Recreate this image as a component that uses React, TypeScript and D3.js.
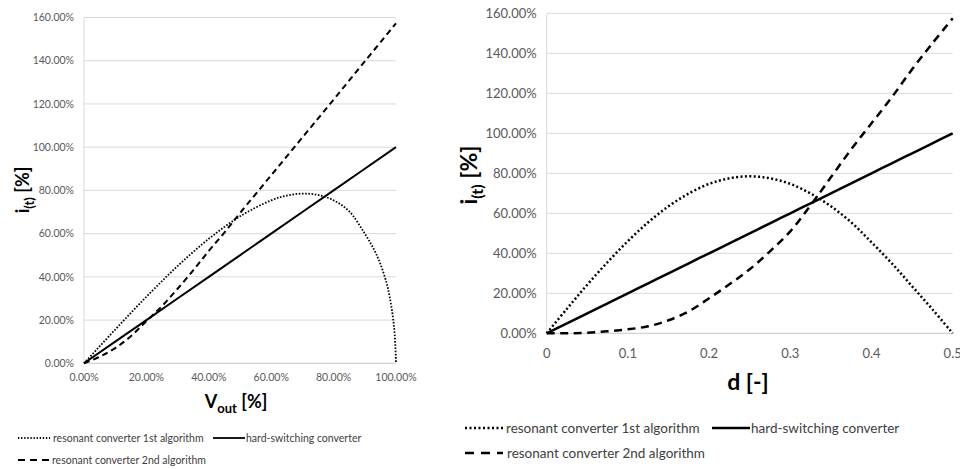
import * as d3 from 'd3'

// left panel: i(t) vs Vout (both in %)
const vOutHard = [0, 20, 40, 60, 80, 100]
const iHard = [0, 20, 40, 60, 80, 100]
const vOutRes1 = [0, 10, 20, 30, 40, 50, 60, 65, 70, 75, 80, 85, 90, 93, 95, 97, 98, 99, 99.6, 100]
const iRes1 = [0, 15.6, 30.8, 45, 57.6, 68, 75.4, 77.6, 78.5, 77.9, 75.4, 70.3, 60, 52.5, 46, 37, 30.5, 21.5, 13, 0]
const vOutRes2 = [0, 5, 10, 15, 20, 25, 30, 35, 40, 45, 50, 60, 70, 80, 90, 100]
const iRes2 = [0, 3, 7, 12.5, 19.5, 26.5, 34.5, 43, 52, 60.5, 69.5, 87, 104.5, 122, 139.7, 157.3]

// right panel: i(t) vs duty d
const dValues = [0, 0.025, 0.05, 0.075, 0.1, 0.125, 0.15, 0.175, 0.2, 0.225, 0.25, 0.275, 0.3, 0.325, 0.35, 0.375, 0.4, 0.425, 0.45, 0.475, 0.5]
const dHard = [0, 5, 10, 15, 20, 25, 30, 35, 40, 45, 50, 55, 60, 65, 70, 75, 80, 85, 90, 95, 100]
const dRes1 = [0, 12.3, 24.3, 35.6, 46.1, 55.5, 63.5, 69.9, 74.7, 77.5, 78.5, 77.5, 74.7, 69.9, 63.5, 55.5, 45.5, 35, 23.5, 12, 0]
const dRes2 = [0, 0, 0.3, 1, 2, 3.5, 6.5, 11, 17.5, 24.5, 32, 41, 51, 64, 78, 92, 105, 118, 132, 145, 157.5]

const yTicks = [0, 20, 40, 60, 80, 100, 120, 140, 160]
const vOutTicks = [0, 20, 40, 60, 80, 100]
const dTicks = [0, 0.1, 0.2, 0.3, 0.4, 0.5]

const legendLabels = ['resonant converter 1st algorithm', 'hard-switching converter', 'resonant converter 2nd algorithm']

const FONT = 'Lato, "Open Sans", sans-serif'
const GRID = '#d9d9d9'
const TICK_COLOR = '#595959'

type Series = { xs: number[]; ys: number[]; dash: string; width: number }

function toPoints(xs: number[], ys: number[]): [number, number][] {
  return xs.map((x, i) => [x, ys[i]])
}

function Panel({
  left, right, top, bottom, xDomain, xTicks, xFmt, series, tickSize, xLabelOffset,
}: {
  left: number; right: number; top: number; bottom: number
  xDomain: [number, number]; xTicks: number[]; xFmt: (v: number) => string
  series: Series[]; tickSize: number; xLabelOffset: number
}) {
  const x = d3.scaleLinear().domain(xDomain).range([left, right])
  const y = d3.scaleLinear().domain([0, 160]).range([bottom, top])
  const line = d3.line<[number, number]>()
    .x((p) => x(p[0]))
    .y((p) => y(p[1]))
    .curve(d3.curveCatmullRom.alpha(0.5))

  return (
    <g>
      {yTicks.map((t) => (
        <g key={t}>
          <line x1={left} x2={right} y1={y(t)} y2={y(t)} stroke={t === 0 ? '#c8c8c8' : GRID} strokeWidth={1} />
          <text x={left - 10} y={y(t)} dy="0.35em" textAnchor="end" fontSize={tickSize} fill={TICK_COLOR}>
            {t.toFixed(2)}%
          </text>
        </g>
      ))}
      <line x1={left} x2={left} y1={top} y2={bottom} stroke={GRID} strokeWidth={1} />
      {xTicks.map((t) => (
        <text key={t} x={x(t)} y={bottom + xLabelOffset} textAnchor="middle" fontSize={tickSize} fill={TICK_COLOR}>
          {xFmt(t)}
        </text>
      ))}
      {series.map((s, i) => (
        <path
          key={i}
          d={line(toPoints(s.xs, s.ys)) ?? ''}
          fill="none"
          stroke="#000"
          strokeWidth={s.width}
          strokeDasharray={s.dash}
        />
      ))}
    </g>
  )
}

function Legend({
  x0, x2, row1, row2, sampleW, solidX, fontSize, dotDash, dashDash, lw,
}: {
  x0: number; x2: number; row1: number; row2: number; sampleW: number; solidX: number
  fontSize: number; dotDash: string; dashDash: string; lw: number
}) {
  return (
    <g fontSize={fontSize} fill="#404040">
      <line x1={x0} x2={x0 + sampleW} y1={row1} y2={row1} stroke="#000" strokeWidth={lw} strokeDasharray={dotDash} />
      <text x={x0 + sampleW + 3} y={row1} dy="0.35em">{legendLabels[0]}</text>
      <line x1={solidX} x2={solidX + sampleW} y1={row1} y2={row1} stroke="#000" strokeWidth={lw} />
      <text x={solidX + sampleW + 1} y={row1} dy="0.35em">{legendLabels[1]}</text>
      <line x1={x0} x2={x0 + sampleW} y1={row2} y2={row2} stroke="#000" strokeWidth={lw} strokeDasharray={dashDash} />
      <text x={x2} y={row2} dy="0.35em">{legendLabels[2]}</text>
    </g>
  )
}

export default function App() {
  return (
    <svg width={960} height={469} style={{ position: 'absolute', left: 0, top: 0, background: '#fff' }} fontFamily={FONT}>
      <rect width={960} height={469} fill="#fff" />
      <Panel
        left={84} right={396} top={17.5} bottom={363.3}
        xDomain={[0, 100]} xTicks={vOutTicks} xFmt={(v) => `${v.toFixed(2)}%`}
        tickSize={10.5} xLabelOffset={18}
        series={[
          { xs: vOutRes1, ys: iRes1, dash: '1.6,1.6', width: 1.8 },
          { xs: vOutHard, ys: iHard, dash: '', width: 2 },
          { xs: vOutRes2, ys: iRes2, dash: '6,4', width: 2 },
        ]}
      />
      <text x={236} y={408} textAnchor="middle" fontSize={18} fontWeight="bold" fill="#000">
        V<tspan fontSize={13} dy={5}>out</tspan><tspan dy={-5}> [%]</tspan>
      </text>
      <text transform="translate(29,190) rotate(-90)" textAnchor="middle" fontSize={18} fontWeight="bold" fill="#000">
        i<tspan fontSize={13} dy={5}>(t)</tspan><tspan dy={-5}> [%]</tspan>
      </text>
      <Legend x0={18} x2={52} row1={438} row2={460} sampleW={32} solidX={213} fontSize={10.5} dotDash="1.3,1.8" dashDash="7,5" lw={1.8} />

      <Panel
        left={546.7} right={952.7} top={13.3} bottom={333.3}
        xDomain={[0, 0.5]} xTicks={dTicks} xFmt={(v) => (v === 0 ? '0' : String(v))}
        tickSize={13} xLabelOffset={25}
        series={[
          { xs: dValues, ys: dRes1, dash: '2,2.4', width: 2.5 },
          { xs: dValues, ys: dHard, dash: '', width: 2.5 },
          { xs: dValues, ys: dRes2, dash: '8,5.5', width: 2.5 },
        ]}
      />
      <text x={748} y={390} textAnchor="middle" fontSize={23} fontWeight="bold" fill="#000">d [-]</text>
      <text transform="translate(477,175) rotate(-90)" textAnchor="middle" fontSize={23} fontWeight="bold" fill="#000">
        i<tspan fontSize={16} dy={6}>(t)</tspan><tspan dy={-6}> [%]</tspan>
      </text>
      <Legend x0={465} x2={507} row1={428} row2={453} sampleW={38} solidX={712} fontSize={13.5} dotDash="2,2.5" dashDash="9,7" lw={2.5} />
    </svg>
  )
}
